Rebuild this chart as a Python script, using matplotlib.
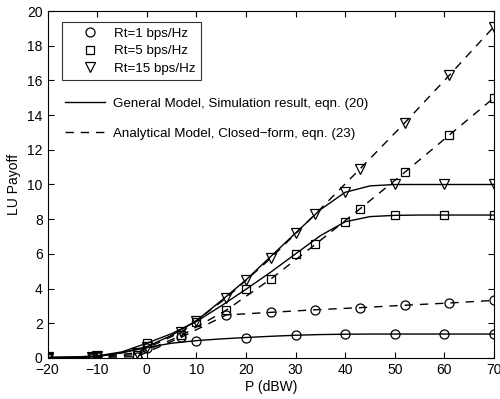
import numpy as np
import matplotlib.pyplot as plt
from matplotlib.lines import Line2D

plt.rcParams['font.family'] = ['Liberation Sans', 'DejaVu Sans']

# simulation (solid), read every 5 dB, markers every 10 dB
p_sim = [-20, -15, -10, -5, 0, 5, 10, 15, 20, 25, 30, 35, 40, 45, 50, 55, 60, 65, 70]
sim_rt1 = [0.02, 0.04, 0.08, 0.3, 0.6, 0.85, 1.0, 1.1, 1.18, 1.25, 1.31, 1.35, 1.37,
           1.38, 1.38, 1.38, 1.38, 1.38, 1.38]
sim_rt5 = [0.03, 0.05, 0.12, 0.35, 0.85, 1.4, 2.1, 3.0, 3.96, 4.95, 6.0, 7.05, 7.85,
           8.15, 8.22, 8.24, 8.24, 8.24, 8.24]
sim_rt15 = [0.03, 0.05, 0.1, 0.3, 0.65, 1.3, 2.15, 3.3, 4.5, 5.85, 7.2, 8.55, 9.55,
            9.92, 10.0, 10.0, 10.0, 10.0, 10.0]

# closed form (dashed)
p_ana = [-20, -11, -2, 7, 16, 25, 34, 43, 52, 61, 70]
ana_rt1 = [0.0, 0.02, 0.08, 1.2, 2.48, 2.63, 2.78, 2.9, 3.04, 3.17, 3.32]
ana_rt5 = [0.0, 0.03, 0.2, 1.3, 2.75, 4.55, 6.55, 8.6, 10.7, 12.85, 15.0]
ana_rt15 = [0.0, 0.03, 0.3, 1.5, 3.45, 5.75, 8.3, 10.9, 13.55, 16.3, 19.1]

labels = ['Rt=1 bps/Hz', 'Rt=5 bps/Hz', 'Rt=15 bps/Hz']
markers = ['o', 's', 'v']
msizes = [6.5, 5.5, 7.5]

fig = plt.figure(figsize=(5, 3.99), dpi=100)
ax = fig.add_axes([0.095, 0.1028, 0.893, 0.8696])

for y, m, ms in zip([sim_rt1, sim_rt5, sim_rt15], markers, msizes):
    ax.plot(p_sim, y, '-', color='k', lw=1, marker=m, ms=ms, mfc='none', mec='k',
            mew=0.9, markevery=2)
for y, m, ms in zip([ana_rt1, ana_rt5, ana_rt15], markers, msizes):
    ax.plot(p_ana, y, '--', color='k', lw=1, dashes=(6, 5), marker=m, ms=ms,
            mfc='none', mec='k', mew=0.9)

ax.set_xlim(-20, 70)
ax.set_ylim(0, 20)
ax.set_xticks(range(-20, 71, 10))
ax.set_yticks(range(0, 21, 2))
ax.tick_params(direction='in', top=True, right=True, labelsize=10, length=4, width=0.8)
for s in ax.spines.values():
    s.set_linewidth(0.8)
ax.set_xlabel('P (dBW)', fontsize=10, labelpad=2)
ax.set_ylabel('LU Payoff', fontsize=10, labelpad=4)

h1 = [Line2D([], [], ls='none', marker=m, ms=ms, mfc='none', mec='k', mew=0.9)
      for m, ms in zip(markers, msizes)]
leg1 = ax.legend(h1, labels, loc='upper left', bbox_to_anchor=(0.032, 0.968),
                 fontsize=9.6, frameon=True, fancybox=False, edgecolor='k',
                 borderaxespad=0, handlelength=3.5, labelspacing=0.4,
                 borderpad=0.4, handletextpad=0.0)
leg1.get_frame().set_linewidth(0.8)
ax.add_artist(leg1)

h2 = [Line2D([], [], ls='-', color='k', lw=1),
      Line2D([], [], ls='--', dashes=(6, 5), color='k', lw=1)]
ax.legend(h2, ['General Model, Simulation result, eqn. (20)',
               'Analytical Model, Closed\u2212form, eqn. (23)'],
          loc='upper left', bbox_to_anchor=(0.027, 0.767), fontsize=9.6,
          frameon=False, borderaxespad=0, handlelength=3.0, labelspacing=1.35,
          handletextpad=0.6)

fig.savefig('out.png', dpi=100)
